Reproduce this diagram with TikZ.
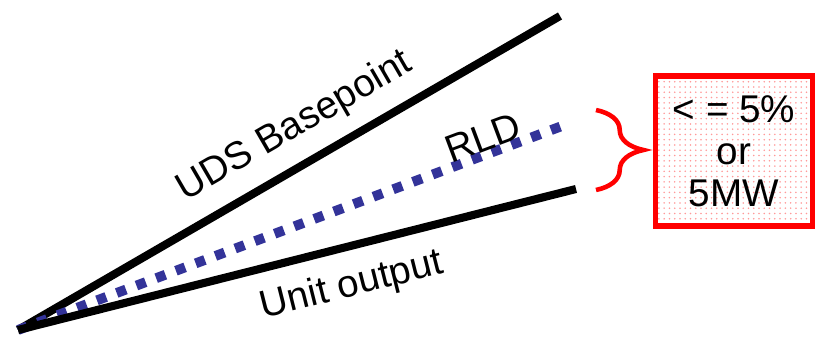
\documentclass[tikz,border=0pt]{standalone}
\usepackage{fontspec}
\setmainfont{Liberation Sans}
\usetikzlibrary{patterns,decorations.pathreplacing}

\begin{document}
\begin{tikzpicture}[x=0.02cm,y=-0.02cm,
  line/.style={line width=4.6pt},
  lbl/.style={font=\fontsize{22}{24}\selectfont,inner sep=0pt}]
\useasboundingbox (0,0) rectangle (817,340);
\coordinate (o) at (18,330);
\coordinate (uds) at (560,16);
\coordinate (rld) at (562,126);
\coordinate (unit) at (576,189);
\draw [line] (o)--(uds);
\draw [line width=5.6pt,blue!50!black!80,dash pattern=on 5.6pt off 6.4pt] (o)--(rld);
\draw [line] (o)--(unit);
\node [lbl,rotate=30.1] (udslbl) at (295,127) {UDS Basepoint};
\node [lbl,rotate=20.5] (rldlbl) at (483,138) {RLD};
\node [lbl,rotate=14.1] (unitlbl) at (352,286) {Unit output};
\coordinate (bt) at (596,110);
\coordinate (bb) at (596,190);
\draw [red,line width=2.6pt,decorate,decoration={brace,amplitude=27pt}] (bt)--(bb);
\node [draw=red,line width=3pt,pattern=dots,pattern color=red!40,
  minimum width=3.14cm,minimum height=3.0cm,inner sep=0pt,
  align=center,font=\fontsize{22}{24}\selectfont] (limit) at (734,151)
  {< = 5\%\\or\\5MW};
\end{tikzpicture}
\end{document}
